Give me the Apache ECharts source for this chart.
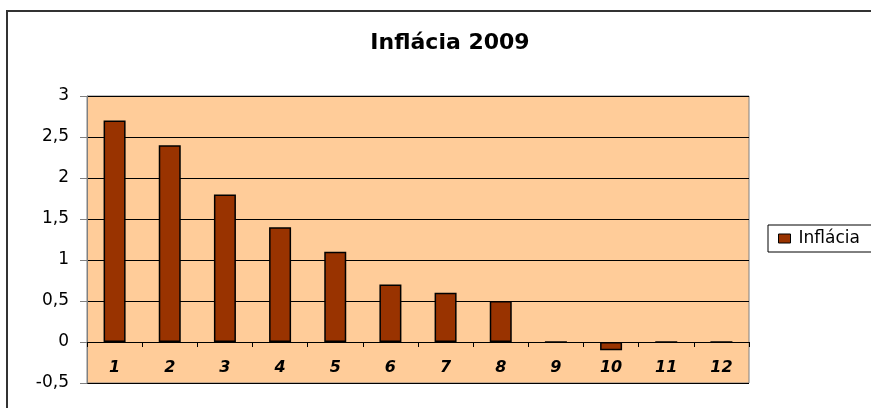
<!DOCTYPE html>
<html>
<head>
<meta charset="utf-8">
<script src="https://cdn.jsdelivr.net/npm/echarts@6/dist/echarts.min.js"></script>
<style>
  body { margin: 0; background: #fff; }
  #chart { width: 871px; height: 408px; }
</style>
</head>
<body>
<div id="chart"></div>
<script>
// mesiace 2009
var months = ['1', '2', '3', '4', '5', '6', '7', '8', '9', '10', '11', '12'];
// inflácia v %
var inflacia = [2.7, 2.4, 1.8, 1.4, 1.1, 0.7, 0.6, 0.5, 0, -0.1, 0, 0];
var yTicks = [-0.5, 0, 0.5, 1, 1.5, 2, 2.5, 3];

var font = 'DejaVu Sans, Liberation Sans, Arial, sans-serif';

var option = {
  animation: false,
  title: {
    text: 'Inflácia 2009',
    left: 445,
    textAlign: 'center',
    top: 27,
    textStyle: { fontFamily: font, fontSize: 22, fontWeight: 'bold', color: '#000' }
  },
  // vonkajší rám grafu
  graphic: [{
    type: 'rect',
    shape: { x: 7, y: 11, width: 900, height: 450 },
    style: { fill: 'none', stroke: '#333', lineWidth: 2 },
    silent: true
  }],
  legend: {
    data: ['Inflácia'],
    left: 768,
    top: 225,
    orient: 'vertical',
    backgroundColor: '#fff',
    borderColor: '#000',
    borderWidth: 1,
    borderRadius: 0,
    padding: [5, 20, 5, 10],
    icon: 'rect',
    itemWidth: 12,
    itemHeight: 9,
    itemGap: 4,
    itemStyle: { borderColor: '#000', borderWidth: 1 },
    textStyle: { fontFamily: font, fontSize: 17, color: '#000', padding: [0, 0, 0, 3] }
  },
  grid: {
    left: 87,
    top: 96,
    width: 662,
    height: 287,
    outerBoundsMode: 'none',
    show: true,
    backgroundColor: '#FFCC99',
    borderColor: '#808080',
    borderWidth: 1
  },
  xAxis: {
    type: 'category',
    data: months,
    // os x leží na nule (41 px nad spodkom)
    offset: -41,
    axisLine: { onZero: false, lineStyle: { color: '#000', width: 1 } },
    axisTick: { show: true, length: 5, lineStyle: { color: '#000' } },
    axisLabel: {
      margin: 18,
      fontFamily: font,
      fontSize: 16,
      fontStyle: 'italic',
      fontWeight: 'bold',
      color: '#000'
    }
  },
  yAxis: {
    type: 'value',
    min: yTicks[0],
    max: yTicks[yTicks.length - 1],
    interval: 0.5,
    axisLine: { show: true, lineStyle: { color: '#808080' } },
    axisTick: { show: true, length: 7, lineStyle: { color: '#808080' } },
    splitLine: { show: true, lineStyle: { color: '#000', width: 1 } },
    axisLabel: {
      margin: 18,
      fontFamily: font,
      fontSize: 17,
      color: '#000',
      formatter: function (v) { return String(v).replace('.', ','); }
    }
  },
  series: [{
    name: 'Inflácia',
    type: 'bar',
    data: inflacia,
    barWidth: 22,
    itemStyle: { color: '#993300', borderColor: '#000', borderWidth: 1.5 }
  }]
};

var myChart = echarts.init(document.getElementById('chart'));
myChart.setOption(option);
</script>
</body>
</html>
